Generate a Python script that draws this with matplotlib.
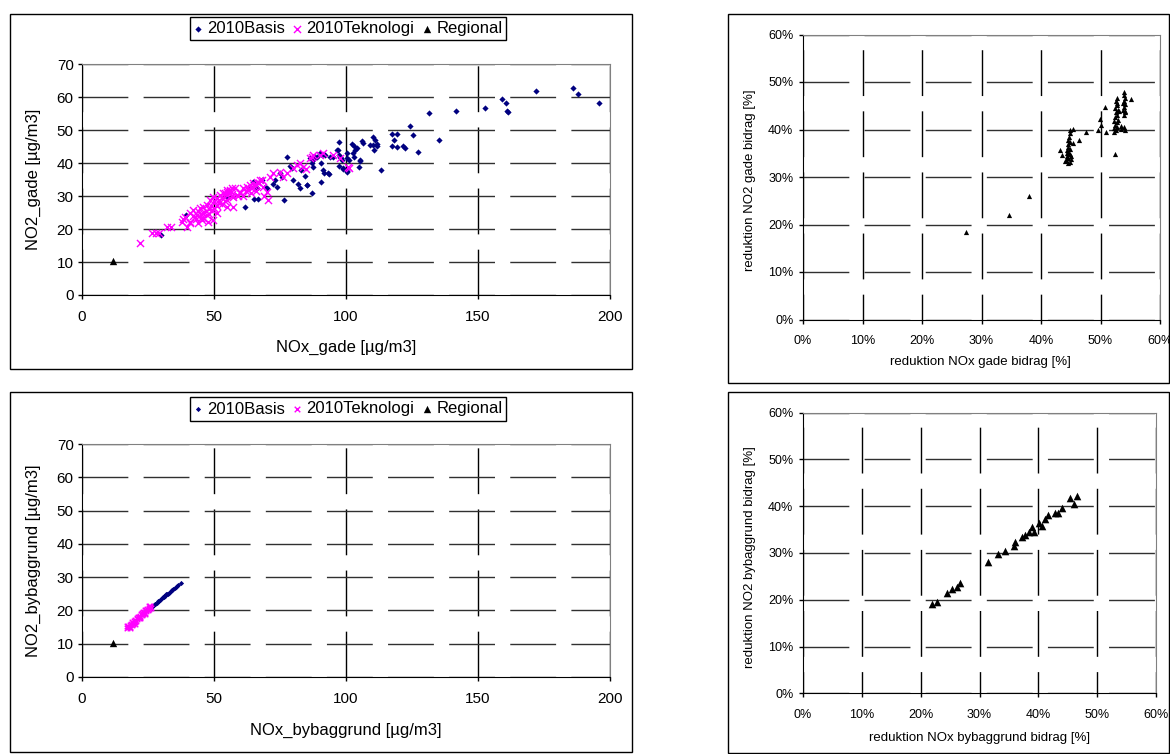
import matplotlib
matplotlib.use("Agg")
import matplotlib.pyplot as plt
from matplotlib.patches import Rectangle
from matplotlib.ticker import PercentFormatter, MultipleLocator

plt.rcParams['font.family'] = ['Liberation Sans', 'DejaVu Sans']

# --- gade: 2010Basis ---
basis_gade_nox = [196, 186, 187.7, 172, 159, 160.6, 160.9, 161.2, 152.5, 141.7,
                  131.3, 124.2, 125.5, 135.2, 127.4, 117.3, 119.2, 118, 117.3, 119.2,
                  121.7, 122.3, 113.3, 110.3, 111, 111.6, 110.1, 111.9, 110.6, 109.1,
                  106, 106.3, 102.2, 103, 103.4, 104, 102.8, 103, 105.3, 105,
                  101.3, 100.3, 100.3, 99, 97.3, 97.1, 96.7, 97.5, 98, 98.4,
                  97.5, 93.6, 91.7, 91.4, 90.4, 87.2, 85.1, 90.2, 90.8, 88.3,
                  87.6, 87, 90.4, 87.6, 29.9, 39.4, 61.7, 65.2, 66.8, 76.6,
                  77.8, 79.5, 78.8, 75, 75.6, 73.1, 72.5, 73.7, 80, 82.6,
                  81.9, 85.3, 93.3, 95.2, 99, 100.3, 97.7, 100.3, 105.3, 69.3,
                  70, 66.2, 64.9, 68, 54.8, 63.6, 86.4, 88.9, 92, 94,
                  83, 84.5]
basis_gade_no2 = [58.2, 62.8, 61, 62, 59.4, 58.2, 56, 55.6, 56.8, 56,
                  55.3, 51.4, 48.5, 47, 43.5, 48.8, 48.8, 47.2, 45.3, 45,
                  45.2, 44.5, 38, 47.9, 47, 46, 45.5, 45.2, 44, 45.5,
                  46.9, 46.2, 45.9, 45.2, 44, 44.5, 43, 41.8, 41, 39,
                  41, 43, 37.7, 38.4, 46.5, 44, 44, 42.5, 41.5, 41,
                  39.2, 36.7, 37.1, 38, 34.4, 30.9, 33.4, 43, 42.5, 42,
                  41, 40, 40, 39, 18.2, 24.3, 26.6, 29.2, 29.2, 29,
                  42, 38.7, 39.2, 37, 35.9, 34.9, 33.7, 32.9, 34.9, 32.4,
                  33.7, 33.4, 37, 42, 38.5, 37.4, 42, 41.5, 40.8, 32.9,
                  32.4, 32.4, 34.4, 34.9, 29.9, 32.9, 41.5, 42, 42.5, 41.8,
                  38, 36]

# --- gade: 2010Teknologi ---
tekno_gade_nox = [22, 26.4, 28, 29.3, 32.3, 33.6, 38.4, 39.6, 39, 37.8,
                  40.9, 42.2, 43.4, 44.7, 46, 47.2, 48.5, 49.7, 51, 52.3,
                  53.5, 54.8, 56.1, 57.3, 58.6, 59.8, 61.1, 62.4, 63.6, 64.9,
                  66.2, 67.4, 68.7, 69.9, 71.2, 72.5, 75, 76.3, 77.5, 80.1,
                  81.3, 82.6, 83.8, 86.4, 87.6, 90.2, 91.4, 95.2, 97.7, 100.9,
                  101.3, 84.8, 87, 44.1, 49.7, 51, 54.8, 57.3, 47.2, 49.1,
                  40.9, 42.8, 45.3, 47.9, 52, 53, 54, 55, 56, 57,
                  55, 53, 51, 50, 48, 46, 45, 44, 43, 42,
                  41, 46, 47, 49, 58, 59, 60, 62, 63, 64,
                  65, 66, 67, 68, 66, 64, 61, 70.5, 69, 56,
                  57, 55, 54, 52, 50, 48, 45]
tekno_gade_no2 = [15.9, 18.9, 18.9, 18.9, 20.7, 20.7, 23, 20.7, 23.8, 22.3,
                  24.8, 25.8, 24.3, 26.3, 26.8, 27.3, 28.9, 29.9, 29.4, 30.4,
                  30.9, 31.4, 30.9, 29.9, 30.4, 31.4, 32.4, 32.9, 33.4, 33.9,
                  34.4, 34.9, 32.9, 31.4, 35.9, 36.9, 37.5, 35.9, 36.9, 38.5,
                  39.5, 40, 39, 41.5, 42.5, 42.5, 43, 42.5, 41.5, 39,
                  38.7, 38.2, 42, 21.8, 22.8, 24.8, 26.8, 26.8, 24.3, 25.8,
                  22.3, 23.8, 22.8, 22.3, 28, 29.5, 31, 32, 31.5, 30,
                  29, 27.5, 27, 28.5, 26, 25, 24.5, 25.5, 23, 24,
                  22, 23.5, 25.5, 27, 32.5, 30, 31, 31.5, 32, 32.5,
                  33, 33.5, 34, 35, 31.5, 31, 30, 29, 30, 32,
                  32.5, 30.5, 28.5, 29, 26.5, 24.5, 23.5]

# --- regional ---
regional_nox = [11.8]
regional_no2 = [10.3]

# --- bybaggrund: 2010Basis ---
basis_by_nox = [26.5, 27.2, 27.8, 28.3, 28.9, 29.4, 29.8, 30.3, 30.7, 31.2,
                31.6, 32.0, 32.5, 32.9, 33.3, 33.8, 34.2, 34.6, 35.1, 35.5,
                35.9, 36.3, 37.4, 27.5, 29.1, 30.9, 32.2, 34.0]
basis_by_no2 = [21.0, 21.6, 22.0, 22.3, 22.7, 23.0, 23.3, 23.6, 23.9, 24.2,
                24.4, 24.8, 25.0, 25.3, 25.6, 25.9, 26.2, 26.4, 26.7, 27.0,
                27.3, 27.5, 28.3, 21.9, 22.9, 24.0, 24.9, 26.1]

# --- bybaggrund: 2010Teknologi ---
tekno_by_nox = [16.9, 17.3, 17.6, 18.0, 18.2, 18.5, 18.8, 19.0, 19.3, 19.6,
                19.9, 20.1, 20.4, 20.7, 21.0, 21.2, 21.5, 21.8, 22.1, 22.3,
                22.6, 22.9, 23.2, 23.4, 23.7, 24.0, 24.3, 24.6, 24.9, 25.2,
                25.5, 25.8, 26.0, 25.3, 22.0, 20.0, 18.1, 23.8, 17.0, 19.5,
                21.6, 24.1, 25.9, 23.0]
tekno_by_no2 = [14.6, 15.2, 14.9, 15.6, 15.1, 16.0, 15.7, 16.4, 16.0, 16.8,
                16.5, 17.2, 16.9, 17.6, 17.3, 18.0, 17.7, 18.4, 18.1, 18.8,
                18.5, 19.2, 18.9, 19.6, 19.3, 20.0, 19.7, 20.4, 20.1, 20.8,
                20.5, 21.2, 20.6, 21.4, 17.6, 16.0, 14.8, 18.8, 15.3, 16.2,
                17.9, 20.0, 21.0, 19.5]

# --- reduktion gade [%] ---
red_gade_nox = [27.4, 34.7, 38, 43.2, 43.5, 45.4, 45.3, 46.4, 47.6, 49.6,
                49.9, 50.1, 50.8, 51, 52.5, 55.1, 53.5, 53.5, 52.3,
                44.5, 44.8, 44.2, 45.0, 44.6, 44.3, 44.9, 44.6, 44.4, 44.8,
                44.6, 44.5, 44.8, 44.6, 44.7, 44.8, 44.9, 44.1, 45.1, 44.4,
                52.6, 52.8, 52.4, 52.7, 52.9, 52.5, 52.8, 52.6, 52.9, 52.4,
                52.7, 52.8, 52.6, 52.7, 52.3, 53.1, 52.2,
                53.9, 54.1, 53.8, 54.0, 54.2, 53.9, 54.1, 54.0, 53.9, 54.2,
                53.8, 54.1, 54.0]
red_gade_no2 = [18.5, 21.9, 26.1, 35.7, 34.6, 40.2, 37.2, 37.7, 39.5, 39.9,
                42.3, 41, 44.8, 39.5, 34.8, 46.4, 40.2, 40.7, 39.5,
                33.0, 33.2, 33.5, 33.8, 34.1, 34.5, 34.8, 35.2, 35.6, 36.0,
                36.4, 36.9, 37.3, 37.8, 38.4, 39.2, 39.8, 33.3, 34.4, 35.0,
                39.8, 40.5, 41.0, 41.6, 42.1, 42.6, 43.1, 43.6, 44.1, 44.6,
                45.1, 45.6, 46.1, 46.7, 41.8, 43.8, 40.4,
                43.0, 43.6, 44.2, 44.8, 45.4, 46.0, 46.6, 47.2, 47.8, 44.0,
                45.6, 40.0, 40.6]

# --- reduktion bybaggrund [%] ---
red_by_nox = [22.0, 22.7, 24.5, 25.3, 26.2, 26.7, 31.5, 33.2, 34.4, 35.8,
              36.1, 37.2, 37.8, 38.4, 38.9, 39.2, 40.1, 40.6, 41.2, 41.7,
              42.9, 43.4, 44.0, 45.4, 46.0, 46.5]
red_by_no2 = [19.2, 19.6, 21.4, 22.2, 22.7, 23.5, 28.1, 29.8, 30.5, 31.6,
              32.3, 33.4, 33.8, 34.5, 35.5, 34.5, 36.5, 35.8, 37.2, 38.1,
              38.6, 38.6, 39.7, 41.8, 40.4, 42.2]

W, H = 1170, 754
fig = plt.figure(figsize=(11.7, 7.54), dpi=100)


def rect(l, t, r, b):
    return [l / W, 1 - b / H, (r - l) / W, (b - t) / H]


# chart area frames
for l, t, r, b in [(10, 14, 632, 369), (10, 392, 632, 752),
                   (728, 14, 1169, 383), (728, 392, 1169, 753)]:
    x0, y0, w, h = rect(l, t, r, b)
    fig.patches.append(Rectangle((x0, y0), w, h, transform=fig.transFigure,
                                 fill=False, edgecolor='black', lw=1))


def style(ax, fs, xpad, ypad, voff):
    for s in ['top', 'right']:
        ax.spines[s].set_color('#808080')
    for s in ['left', 'bottom']:
        ax.spines[s].set_color('black')
    ax.tick_params(direction='out', length=3, width=1, labelsize=fs)
    ax.tick_params(axis='x', pad=xpad)
    ax.tick_params(axis='y', pad=ypad)
    ax.grid(axis='y', color='#303030', lw=1, linestyle=(0, (33, 11)))
    ax.grid(axis='x', color='black', lw=1, linestyle=(voff, (33, 11)))
    ax.set_axisbelow(True)


def left_chart(ax, bx, by, tx, ty, xlabel, ylabel, ms):
    b = ax.scatter(bx, by, marker='D', s=ms[0], color='#000080', lw=0, zorder=3)
    t = ax.scatter(tx, ty, marker='x', s=ms[1], color='#FF00FF', lw=1, zorder=3)
    r = ax.scatter(regional_nox, regional_no2, marker='^', s=28, color='black', lw=0, zorder=4)
    ax.set_xlim(0, 200)
    ax.set_ylim(0, 70)
    ax.xaxis.set_major_locator(MultipleLocator(50))
    ax.yaxis.set_major_locator(MultipleLocator(10))
    style(ax, 11, 8, 3, 0)
    ax.set_xlabel(xlabel, fontsize=12, va='center')
    ax.set_ylabel(ylabel, fontsize=12, va='center')
    return b, t, r


ax1 = fig.add_axes(rect(82, 64.5, 610, 295))
h1 = left_chart(ax1, basis_gade_nox, basis_gade_no2, tekno_gade_nox, tekno_gade_no2,
                'NOx_gade [µg/m3]', 'NO2_gade [µg/m3]', (10, 26))
ax1.xaxis.set_label_coords(0.5, (295 - 347) / 230.5)
ax1.yaxis.set_label_coords((33 - 82) / 528, 0.5)

ax2 = fig.add_axes(rect(82, 444, 610, 677))
h2 = left_chart(ax2, basis_by_nox, basis_by_no2, tekno_by_nox, tekno_by_no2,
                'NOx_bybaggrund [µg/m3]', 'NO2_bybaggrund [µg/m3]', (7, 16))
ax2.xaxis.set_label_coords(0.5, (677 - 730) / 233)
ax2.yaxis.set_label_coords((33 - 82) / 528, 0.5)

labels = ['2010Basis', '2010Teknologi', 'Regional']
for ax, hs, cy in [(ax1, h1, 28.5), (ax2, h2, 409)]:
    leg = ax.legend(hs, labels, loc='center', bbox_to_anchor=(348 / W, 1 - cy / H),
                    bbox_transform=fig.transFigure, ncol=3, fontsize=12,
                    frameon=True, fancybox=False, edgecolor='black', framealpha=1,
                    handlelength=0.5, handletextpad=0.3, columnspacing=0.5,
                    borderpad=0.25, scatterpoints=1, borderaxespad=0)
    leg.get_frame().set_linewidth(1)


def right_chart(ax, x, y, xlabel, ylabel, ms, voff):
    ax.scatter(x, y, marker='^', s=ms, color='black', lw=0, zorder=3)
    ax.set_xlim(0, 60)
    ax.set_ylim(0, 60)
    ax.xaxis.set_major_locator(MultipleLocator(10))
    ax.yaxis.set_major_locator(MultipleLocator(10))
    ax.xaxis.set_major_formatter(PercentFormatter(100, decimals=0))
    ax.yaxis.set_major_formatter(PercentFormatter(100, decimals=0))
    style(ax, 9, 8, 4, voff)
    ax.set_xlabel(xlabel, fontsize=9.5, va='center')
    ax.set_ylabel(ylabel, fontsize=9.5, va='center')


ax3 = fig.add_axes(rect(803, 34.5, 1160, 319.5))
right_chart(ax3, red_gade_nox, red_gade_no2, 'reduktion NOx gade bidrag [%]',
            'reduktion NO2 gade bidrag [%]', 14, 14.4)
ax3.xaxis.set_label_coords(0.496, (319.5 - 362) / 285)
ax3.yaxis.set_label_coords((750 - 803) / 357, 0.49)

ax4 = fig.add_axes(rect(803, 412.7, 1156, 693.3))
right_chart(ax4, red_by_nox, red_by_no2, 'reduktion NOx bybaggrund bidrag [%]',
            'reduktion NO2 bybaggrund bidrag [%]', 30, 17.6)
ax4.xaxis.set_label_coords(0.5, (693.3 - 738) / 280.6)
ax4.yaxis.set_label_coords((750 - 803) / 353, 0.487)

fig.savefig('out.png', dpi=100)
